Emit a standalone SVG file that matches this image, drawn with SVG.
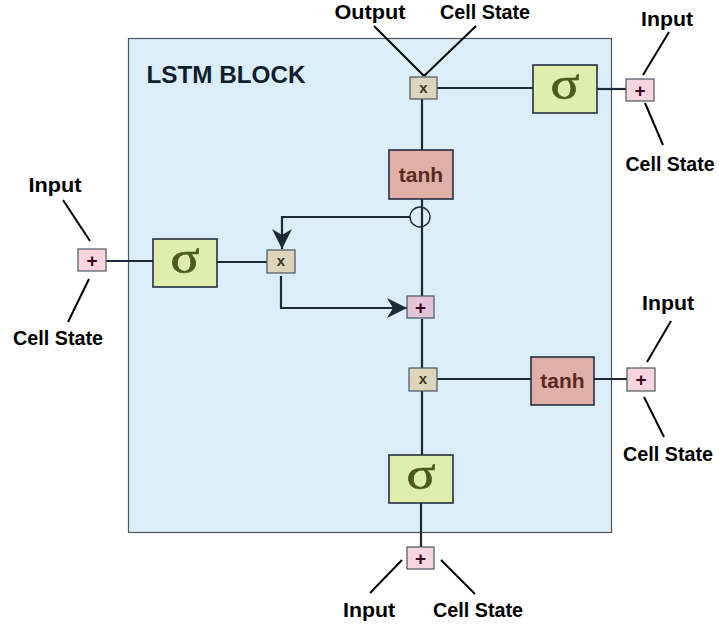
<svg xmlns="http://www.w3.org/2000/svg" width="719" height="628" viewBox="0 0 719 628">
<defs>
<style>
.lbl{font-family:"Liberation Sans",Arial,sans-serif;font-weight:bold;font-size:20.5px;fill:#000;text-anchor:middle}
.ln{stroke:#1c2a38;stroke-width:2.2;fill:none}
.tl{stroke:#000;stroke-width:2;fill:none}
.sig{fill:#e0edac;stroke:#243040;stroke-width:1.6}
.sigt{font-family:"Liberation Serif","Times New Roman",serif;font-size:46px;fill:#4b5c1a;text-anchor:middle;stroke:#4b5c1a;stroke-width:0.6}
.tanh{fill:#e0b0a8;stroke:#243040;stroke-width:1.6}
.tanht{font-family:"Liberation Sans",Arial,sans-serif;font-weight:bold;font-size:21px;fill:#5a2a20;text-anchor:middle}
.mul{fill:#ddd5bb;stroke:#4a5560;stroke-width:1.2}
.mult{font-family:"Liberation Sans",Arial,sans-serif;font-weight:bold;font-size:15px;fill:#3e3422;text-anchor:middle}
.add{fill:#f8d6e0;stroke:#4a5560;stroke-width:1.2}
.addm{fill:#e2c6d8;stroke:#4a5560;stroke-width:1.2}
.addt{font-family:"Liberation Sans",Arial,sans-serif;font-weight:bold;font-size:19px;fill:#3a0a1c;text-anchor:middle}
</style>
<marker id="arr" viewBox="0 0 20 20" refX="20" refY="10" markerWidth="20" markerHeight="20" markerUnits="userSpaceOnUse" orient="auto">
<path d="M0,0 L20,10 L0,20 L6,10 Z" fill="#1c2a38"/>
</marker>
</defs>
<rect width="719" height="628" fill="#fff"/>
<g id="block">
<rect x="128.5" y="38.5" width="483" height="494" fill="#dcedfa" stroke="#555" stroke-width="1.2"/>
<text x="226" y="83" font-family="Liberation Sans,Arial,sans-serif" font-weight="bold" font-size="24" fill="#0f1e2e" text-anchor="middle" textLength="159" lengthAdjust="spacingAndGlyphs">LSTM BLOCK</text>
</g>
<g id="connectors">
<line class="ln" x1="437" y1="88" x2="533" y2="88"/>
<line class="ln" x1="597" y1="89" x2="626" y2="89" stroke-width="1.6"/>
<line class="ln" x1="422" y1="99" x2="422" y2="150"/>
<line class="ln" x1="422" y1="199" x2="422" y2="297"/>
<circle cx="420" cy="217" r="10" fill="none" stroke="#1c2a38" stroke-width="1.4"/>
<polyline class="ln" points="410,217 282,217 282,249" marker-end="url(#arr)"/>
<polyline class="ln" points="281,276 281,308 407,308" marker-end="url(#arr)"/>
<line class="ln" x1="106" y1="261" x2="153" y2="261" stroke-width="1.6"/>
<line class="ln" x1="217" y1="262" x2="267" y2="262"/>
<line class="ln" x1="422" y1="319" x2="422" y2="368"/>
<line class="ln" x1="437" y1="379" x2="531" y2="379" stroke-width="3"/>
<line class="ln" x1="594" y1="379" x2="627" y2="379" stroke-width="1.6"/>
<line class="ln" x1="422" y1="391" x2="422" y2="455"/>
<line class="ln" x1="421" y1="503" x2="421" y2="547"/>
<line class="tl" x1="374" y1="26" x2="424" y2="76"/>
<line class="tl" x1="476" y1="26" x2="424" y2="76"/>
<line class="tl" x1="669" y1="32" x2="643" y2="75"/>
<line class="tl" x1="645" y1="103" x2="663" y2="145"/>
<line class="tl" x1="63" y1="200" x2="90" y2="241"/>
<line class="tl" x1="89" y1="279" x2="68" y2="322"/>
<line class="tl" x1="671" y1="321" x2="647" y2="362"/>
<line class="tl" x1="644" y1="397" x2="664" y2="437"/>
<line class="tl" x1="402" y1="560" x2="370" y2="593" stroke-width="1.3"/>
<line class="tl" x1="441" y1="560" x2="475" y2="594" stroke-width="1.3"/>
</g>
<g id="mul-top"><rect class="mul" x="410" y="77" width="27" height="22"/><text class="mult" x="423.5" y="93">x</text></g>
<g id="sigma-top"><rect class="sig" x="533" y="65" width="64" height="48"/><text class="sigt" x="565" y="99" textLength="29" lengthAdjust="spacingAndGlyphs">σ</text></g>
<g id="add-top-right"><rect class="add" x="626" y="79" width="28" height="22"/><text class="addt" x="640" y="97">+</text></g>
<g id="tanh-top"><rect class="tanh" x="389" y="150" width="64" height="49"/><text class="tanht" x="421" y="182">tanh</text></g>
<g id="add-left"><rect class="add" x="78" y="249" width="28" height="22"/><text class="addt" x="92" y="267">+</text></g>
<g id="sigma-left"><rect class="sig" x="153" y="239" width="64" height="48"/><text class="sigt" x="185" y="273" textLength="29" lengthAdjust="spacingAndGlyphs">σ</text></g>
<g id="mul-left"><rect class="mul" x="267" y="250" width="28" height="23"/><text class="mult" x="281" y="266">x</text></g>
<g id="add-mid"><rect class="addm" x="407" y="296" width="27" height="22"/><text class="addt" x="420.5" y="314">+</text></g>
<g id="mul-mid"><rect class="mul" x="409" y="368" width="28" height="23"/><text class="mult" x="423" y="384">x</text></g>
<g id="tanh-right"><rect class="tanh" x="531" y="357" width="63" height="48"/><text class="tanht" x="562.5" y="388">tanh</text></g>
<g id="add-right"><rect class="add" x="627" y="368" width="28" height="23"/><text class="addt" x="641" y="386">+</text></g>
<g id="sigma-bottom"><rect class="sig" x="389" y="455" width="64" height="48"/><text class="sigt" x="421" y="489" textLength="29" lengthAdjust="spacingAndGlyphs">σ</text></g>
<g id="add-bottom"><rect class="add" x="407" y="547" width="27" height="22"/><text class="addt" x="420.5" y="565">+</text></g>
<g id="labels">
<text class="lbl" x="370" y="19" textLength="71" lengthAdjust="spacingAndGlyphs">Output</text>
<text class="lbl" x="485" y="19" textLength="90" lengthAdjust="spacingAndGlyphs">Cell State</text>
<text class="lbl" x="667" y="26" textLength="52" lengthAdjust="spacingAndGlyphs">Input</text>
<text class="lbl" x="670" y="171" textLength="89" lengthAdjust="spacingAndGlyphs">Cell State</text>
<text class="lbl" x="55" y="192" textLength="53" lengthAdjust="spacingAndGlyphs">Input</text>
<text class="lbl" x="58" y="345" textLength="90" lengthAdjust="spacingAndGlyphs">Cell State</text>
<text class="lbl" x="668" y="310" textLength="52" lengthAdjust="spacingAndGlyphs">Input</text>
<text class="lbl" x="668" y="461" textLength="90" lengthAdjust="spacingAndGlyphs">Cell State</text>
<text class="lbl" x="369" y="617" textLength="52" lengthAdjust="spacingAndGlyphs">Input</text>
<text class="lbl" x="478" y="617" textLength="90" lengthAdjust="spacingAndGlyphs">Cell State</text>
</g>
</svg>
